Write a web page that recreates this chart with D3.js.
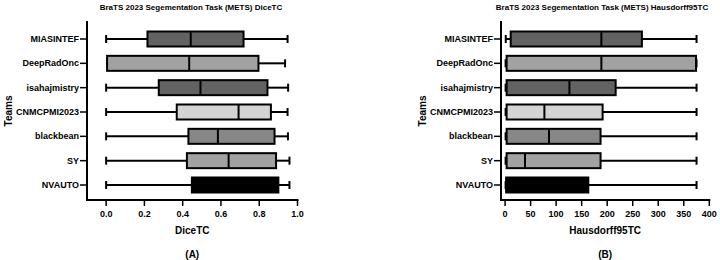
<!DOCTYPE html>
<html><head><meta charset="utf-8">
<script src="https://cdn.jsdelivr.net/npm/d3@7"></script>
<style>body{margin:0;background:#fff}svg{display:block}text{font-family:Arial,"Liberation Sans",sans-serif;font-weight:bold;fill:#000}</style>
</head><body>
<svg id="c" width="720" height="260"></svg>
<script>
const teams = ["MIASINTEF","DeepRadOnc","isahajmistry","CNMCPMI2023","blackbean","SY","NVAUTO"];
const fills = ["#626262","#a2a2a5","#626262","#d4d4d4","#878787","#a2a2a5","#000000"];
// DiceTC
const diceMin = [0.0, 0.005, 0.0, 0.0, 0.0, 0.0, 0.0];
const diceQ1  = [0.216, 0.005, 0.275, 0.369, 0.43, 0.422, 0.448];
const diceMed = [0.442, 0.434, 0.493, 0.692, 0.584, 0.64, 0.80];
const diceQ3  = [0.718, 0.796, 0.843, 0.861, 0.88, 0.888, 0.90];
const diceMax = [0.948, 0.935, 0.951, 0.948, 0.95, 0.958, 0.958];
const diceTicks = [0.0, 0.2, 0.4, 0.6, 0.8, 1.0];
// Hausdorff95TC
const hdMin = [1.3, 1.0, 1.0, 1.0, 1.0, 1.0, 1.0];
const hdQ1  = [11, 3, 3, 3, 3, 3, 2];
const hdMed = [188.6, 188.6, 126, 77, 86, 39, 60];
const hdQ3  = [268, 374, 216.6, 191, 187, 187, 163];
const hdMax = [375, 375, 375, 375, 375, 375, 375];
const hdTicks = [0, 50, 100, 150, 200, 250, 300, 350, 400];

const svg = d3.select("#c");

function panel(o){
  const g = svg.append("g");
  const x = d3.scaleLinear().domain(o.domain).range([o.x0, o.x1]);
  const y = d3.scalePoint().domain(teams).range([39, 185]);
  const bh = 15, cap = 8;
  // title
  g.append("text").attr("x", o.tx).attr("y", 9.5).attr("text-anchor","middle").style("font-size","8px").text(o.title);
  // y axis
  g.append("line").attr("x1",o.x0).attr("x2",o.x0).attr("y1",21).attr("y2",201).attr("stroke","#000").attr("stroke-width",2);
  teams.forEach(t=>{
    g.append("line").attr("x1",o.x0-7).attr("x2",o.x0).attr("y1",y(t)).attr("y2",y(t)).attr("stroke","#000").attr("stroke-width",1.5);
    g.append("text").attr("x",o.x0-8).attr("y",y(t)).attr("dy","0.35em").attr("text-anchor","end").style("font-size","9px").text(t);
  });
  // x axis
  g.append("line").attr("x1",o.x0-1).attr("x2",o.x1+1).attr("y1",200).attr("y2",200).attr("stroke","#000").attr("stroke-width",2);
  o.ticks.forEach(v=>{
    g.append("line").attr("x1",x(v)).attr("x2",x(v)).attr("y1",200).attr("y2",206).attr("stroke","#000").attr("stroke-width",1.5);
    g.append("text").attr("x",x(v)).attr("y",217).attr("text-anchor","middle").style("font-size","9px").text(o.fmt(v));
  });
  g.append("text").attr("x",(o.x0+o.x1)/2).attr("y",234).attr("text-anchor","middle").style("font-size","10px").text(o.xlabel);
  g.append("text").attr("x",(o.x0+o.x1)/2).attr("y",258).attr("text-anchor","middle").style("font-size","10px").text(o.panelLabel);
  g.append("text").attr("transform",`translate(${o.x0-75},111) rotate(-90)`).attr("text-anchor","middle").style("font-size","10px").text("Teams");
  // boxes
  teams.forEach((t,i)=>{
    const cy = y(t);
    const w = g.append("g").attr("stroke","#000").attr("stroke-width",2);
    w.append("line").attr("x1",x(o.mn[i])).attr("x2",x(o.q1[i])).attr("y1",cy).attr("y2",cy);
    w.append("line").attr("x1",x(o.q3[i])).attr("x2",x(o.mx[i])).attr("y1",cy).attr("y2",cy);
    w.append("line").attr("x1",x(o.mn[i])).attr("x2",x(o.mn[i])).attr("y1",cy-cap/2).attr("y2",cy+cap/2);
    w.append("line").attr("x1",x(o.mx[i])).attr("x2",x(o.mx[i])).attr("y1",cy-cap/2).attr("y2",cy+cap/2);
    w.append("rect").attr("x",x(o.q1[i])).attr("y",cy-bh/2).attr("width",x(o.q3[i])-x(o.q1[i])).attr("height",bh).attr("fill",fills[i]);
    w.append("line").attr("x1",x(o.med[i])).attr("x2",x(o.med[i])).attr("y1",cy-bh/2).attr("y2",cy+bh/2);
  });
}

panel({domain:[-0.1,1.0], x0:87, x1:297.5, tx:191, ticks:diceTicks, fmt:d3.format(".1f"),
  title:"BraTS 2023 Segementation Task (METS) DiceTC", xlabel:"DiceTC", panelLabel:"(A)",
  mn:diceMin, q1:diceQ1, med:diceMed, q3:diceQ3, mx:diceMax});
panel({domain:[-8,400], x0:501, x1:709.3, tx:602, ticks:hdTicks, fmt:d3.format("d"),
  title:"BraTS 2023 Segementation Task (METS) Hausdorff95TC", xlabel:"Hausdorff95TC", panelLabel:"(B)",
  mn:hdMin, q1:hdQ1, med:hdMed, q3:hdQ3, mx:hdMax});
</script>
</body></html>
